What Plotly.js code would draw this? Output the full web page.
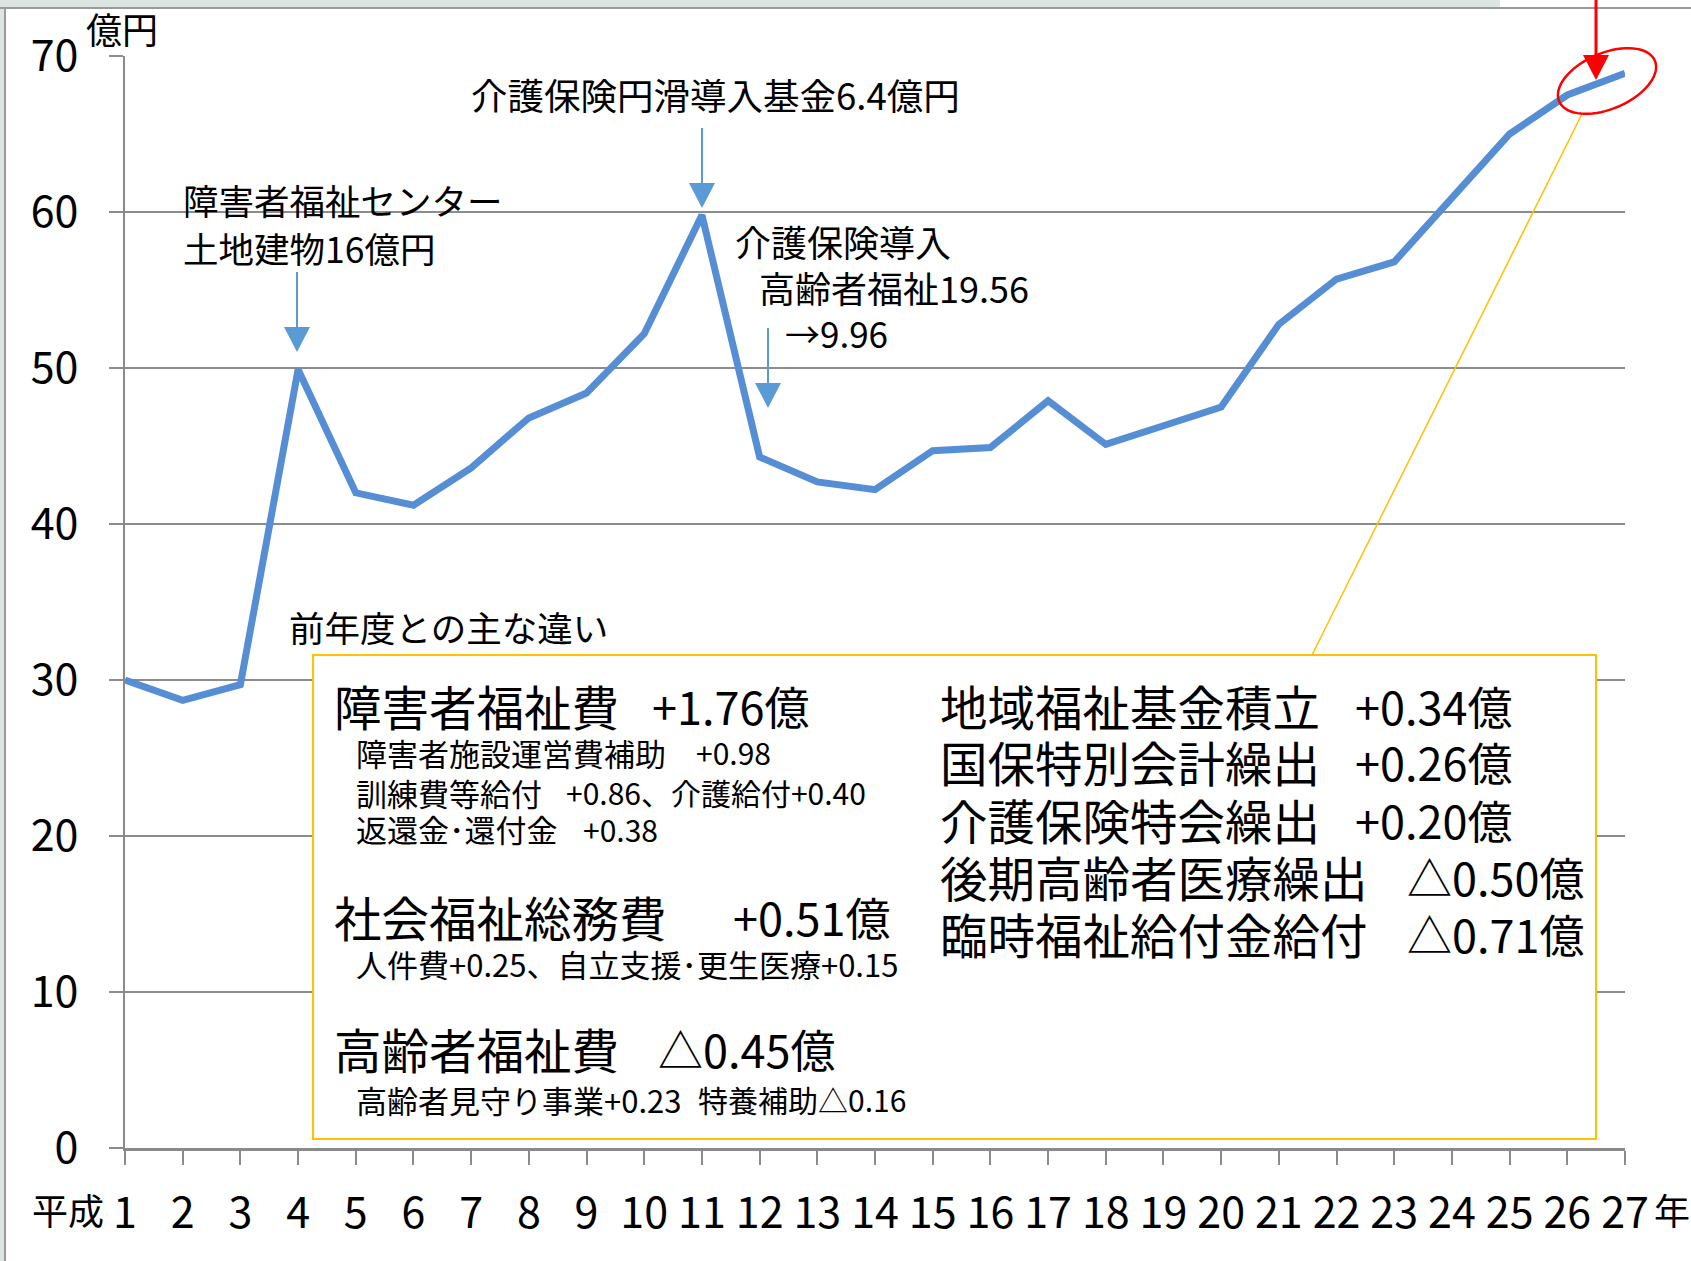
<!DOCTYPE html>
<html>
<head>
<meta charset="utf-8">
<script src="https://cdn.plot.ly/plotly-3.0.1.min.js"></script>
<style>html,body{margin:0;padding:0;background:#fff;}#chart{width:1691px;height:1261px;}</style>
</head>
<body>
<div id="chart"></div>
<script>
// ---- data ----
const years = [1,2,3,4,5,6,7,8,9,10,11,12,13,14,15,16,17,18,19,20,21,22,23,24,25,26,27];
const yearLabels = ["1","2","3","4","5","6","7","8","9","10","11","12","13","14","15","16","17","18","19","20","21","22","23","24","25","26","27"];
const amounts = [30.0,28.7,29.7,49.9,42.0,41.2,43.6,46.8,48.4,52.2,59.8,44.3,42.7,42.2,44.7,44.9,47.9,45.1,46.3,47.5,52.8,55.7,56.8,60.9,65.0,67.5,68.9];
const yTicks = [0,10,20,30,40,50,60,70];

const unitLabel = "億円";
const eraLabel = "平成";
const yearSuffix = "年";
const noteTitle = "前年度との主な違い";

// callouts on the line
const callout1 = ["障害者福祉センター", "土地建物16億円"];
const callout2 = "介護保険円滑導入基金6.4億円";
const callout3 = ["介護保険導入", "高齢者福祉19.56", "→9.96"];

// box contents (left column)
const leftHeads = ["障害者福祉費", "社会福祉総務費", "高齢者福祉費"];
const leftHeadVals = ["+1.76億", "+0.51億", "△0.45億"];
const leftSubs = [
  ["障害者施設運営費補助", "+0.98"],
  ["訓練費等給付", "+0.86、介護給付+0.40"],
  ["返還金･還付金", "+0.38"],
  ["人件費+0.25、自立支援･更生医療+0.15", ""],
  ["高齢者見守り事業+0.23", "特養補助△0.16"]
];
// box contents (right column)
const rightItems = ["地域福祉基金積立", "国保特別会計繰出", "介護保険特会繰出", "後期高齢者医療繰出", "臨時福祉給付金給付"];
const rightVals = ["+0.34億", "+0.26億", "+0.20億", "△0.50億", "△0.71億"];

// ---- layout helpers (pixel -> paper) ----
const W = 1691, H = 1261;
const L = 125, R = 1625, T = 56, B = 1148;
const px = x => (x - L) / (R - L);
const py = y => (B - y) / (B - T);
const FONT = "'Noto Sans CJK JP', 'Noto Sans', sans-serif";

function txt(text, x, y, size, anchor) {
  return {text: text, xref: 'paper', yref: 'paper', x: px(x), y: py(y),
    xanchor: anchor || 'left', yanchor: 'middle', showarrow: false,
    font: {family: FONT, size: size, color: '#000'}};
}

const annotations = [];
annotations.push(txt(unitLabel, 84, 28, 36));
annotations.push(txt(eraLabel, 30, 1209, 36));
annotations.push(txt(yearSuffix, 1652, 1209, 36));
annotations.push(txt(callout1[0], 181, 200, 35.5));
annotations.push(txt(callout1[1], 181, 247, 35.5));
annotations.push(txt(callout2, 469, 95, 36.5));
annotations.push(txt(callout3[0], 733, 241, 36));
annotations.push(txt(callout3[1], 757, 287, 36));
annotations.push(txt(callout3[2], 783, 332, 35));
annotations.push(txt(noteTitle, 287, 627, 35.5));

// left column
const headY = [705, 916, 1048];
const headValX = [650, 731, 656];
for (let i = 0; i < 3; i++) {
  annotations.push(txt(leftHeads[i], 332, headY[i], 47.5));
  annotations.push(txt(leftHeadVals[i], headValX[i], headY[i], 45));
}
const subY = [752, 792, 829, 964, 1099];
const subValX = [694, 564, 581, 0, 696];
for (let i = 0; i < leftSubs.length; i++) {
  annotations.push(txt(leftSubs[i][0], 354, subY[i], 31));
  if (leftSubs[i][1]) annotations.push(txt(leftSubs[i][1], subValX[i], subY[i], 30));
}
// right column
const rightY = [705, 762, 819, 876, 933];
const rightValX = [1353, 1353, 1353, 1405, 1405];
for (let i = 0; i < rightItems.length; i++) {
  annotations.push(txt(rightItems[i], 938, rightY[i], 47.5));
  annotations.push(txt(rightVals[i], rightValX[i], rightY[i], 45));
}

// ---- shapes ----
const shapes = [];
// outer frame decoration
shapes.push({type: 'rect', xref: 'paper', yref: 'paper', x0: px(0), x1: px(1500), y0: py(0), y1: py(7), fillcolor: '#dde5e2', line: {width: 0}, layer: 'below'});
shapes.push({type: 'rect', xref: 'paper', yref: 'paper', x0: px(0), x1: px(4), y0: py(7), y1: py(1261), fillcolor: '#dde5e2', line: {width: 0}, layer: 'below'});
shapes.push({type: 'line', xref: 'paper', yref: 'paper', x0: px(0), x1: px(1691), y0: py(8), y1: py(8), line: {color: '#9a9a9a', width: 2}});
shapes.push({type: 'line', xref: 'paper', yref: 'paper', x0: px(5), x1: px(5), y0: py(8), y1: py(1261), line: {color: '#9a9a9a', width: 2}});

function downArrow(x, yStart, yBase, yTip, halfW, color, lw) {
  shapes.push({type: 'line', xref: 'paper', yref: 'paper', x0: px(x), x1: px(x), y0: py(yStart), y1: py(yBase + 2), line: {color: color, width: lw}});
  shapes.push({type: 'path', xref: 'paper', yref: 'paper',
    path: 'M' + px(x - halfW) + ',' + py(yBase) + ' L' + px(x + halfW) + ',' + py(yBase) + ' L' + px(x) + ',' + py(yTip) + ' Z',
    fillcolor: color, line: {color: color, width: 0}});
}
downArrow(297, 272, 327, 352, 13, '#5b9bd5', 2);
downArrow(702, 128, 183, 208, 13, '#5b9bd5', 2);
downArrow(768, 328, 383, 408, 13, '#5b9bd5', 2);

// yellow connector and box
shapes.push({type: 'line', xref: 'paper', yref: 'paper', x0: px(1582), y0: py(114), x1: px(1312), y1: py(655), line: {color: '#ffc000', width: 1.5}});
shapes.push({type: 'rect', xref: 'paper', yref: 'paper', x0: px(313), x1: px(1596), y0: py(1139), y1: py(655), fillcolor: '#ffffff', line: {color: '#ffc000', width: 2}, layer: 'above'});

// red arrow and ellipse
downArrow(1596, 0, 55, 80, 13, '#ff0000', 3);
(function () {
  const cx = 1607, cy = 81, a = 52, b = 28, th = -23 * Math.PI / 180;
  let p = '';
  for (let k = 0; k <= 72; k++) {
    const t = k / 72 * 2 * Math.PI;
    const ex = a * Math.cos(t), ey = b * Math.sin(t);
    const X = cx + ex * Math.cos(th) - ey * Math.sin(th);
    const Y = cy + ex * Math.sin(th) + ey * Math.cos(th);
    p += (k === 0 ? 'M' : ' L') + px(X) + ',' + py(Y);
  }
  p += ' Z';
  shapes.push({type: 'path', xref: 'paper', yref: 'paper', path: p, line: {color: '#ff0000', width: 2.5}});
})();

const trace = {
  x: years, y: amounts, type: 'scatter', mode: 'lines',
  line: {color: '#558ed5', width: 7},
  hoverinfo: 'skip'
};

const layout = {
  width: W, height: H,
  margin: {l: L, r: W - R, t: T, b: H - B, pad: 0},
  paper_bgcolor: '#ffffff', plot_bgcolor: '#ffffff',
  showlegend: false,
  font: {family: FONT, color: '#000'},
  xaxis: {
    type: 'linear', range: [1, 27], tickmode: 'array', tickvals: years, ticktext: yearLabels,
    showgrid: false, zeroline: false, showline: true, linecolor: '#8a8a8a', linewidth: 3,
    ticks: 'outside', ticklen: 14, tickwidth: 2, tickcolor: '#8a8a8a',
    tickfont: {family: FONT, size: 43, color: '#000'}, ticklabelstandoff: 11
  },
  yaxis: {
    range: [0, 70], tickmode: 'array', tickvals: yTicks, ticktext: yTicks.map(String),
    showgrid: true, gridcolor: '#8c8c8c', gridwidth: 2, zeroline: false,
    showline: true, linecolor: '#8a8a8a', linewidth: 2,
    ticks: 'outside', ticklen: 14, tickwidth: 2, tickcolor: '#8c8c8c',
    tickfont: {family: FONT, size: 43, color: '#000'}, ticklabelstandoff: 22
  },
  annotations: annotations,
  shapes: shapes
};

Plotly.newPlot('chart', [trace], layout, {staticPlot: true, displayModeBar: false});
</script>
</body>
</html>
